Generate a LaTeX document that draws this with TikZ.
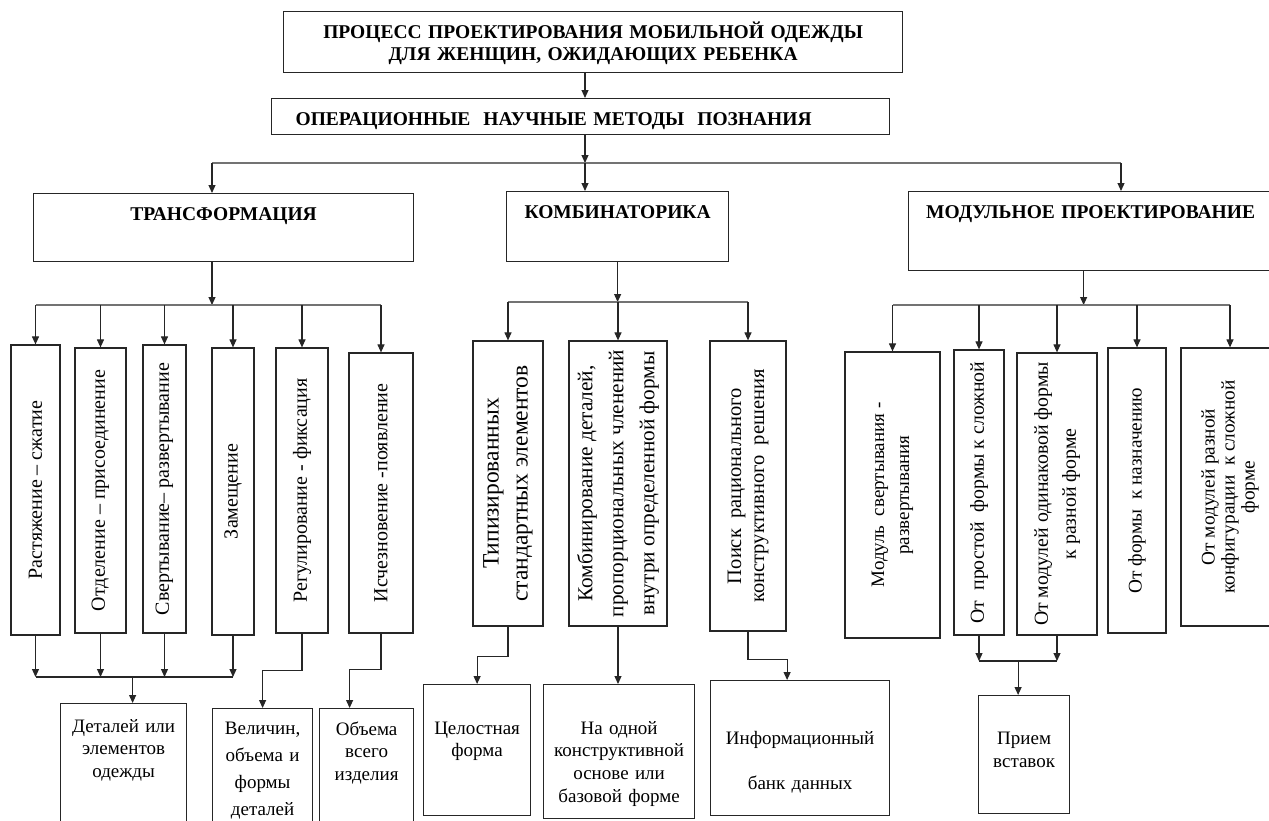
\documentclass[tikz,border=0pt]{standalone}
\usepackage{fontspec}
\setmainfont{Liberation Serif}
\usetikzlibrary{arrows.meta,positioning}

\begin{document}
\begin{tikzpicture}[x=1pt, y=-1pt,
    fs/.style 2 args={font=\fontsize{#1}{#2}\selectfont},
    box/.style={draw=black!85, line width=1.2pt, inner sep=0pt},
    topbox/.style={box, anchor=north west, align=center, font=\fontsize{19.5}{22}\selectfont\bfseries},
    vbox/.style={box, rotate=90, align=center, fs={20}{24}},
    lowbox/.style={box, anchor=north west, align=center, fs={19}{22.5}},
    arr/.style={draw=black!85, line width=1.1pt, -{Triangle[length=8pt,width=7pt]}},
    link/.style={draw=black!85, line width=1.1pt},
    bus/.style={draw=black!55, line width=1.8pt}]
  \useasboundingbox (0,0) rectangle (1269,820);
  \clip (0,0) rectangle (1269,820);

  \node[topbox, text width=619pt, text height=26.5pt, text depth=34.5pt] (title) at (283,11)
    {ПРОЦЕСС ПРОЕКТИРОВАНИЯ МОБИЛЬНОЙ ОДЕЖДЫ\\ ДЛЯ ЖЕНЩИН, ОЖИДАЮЩИХ РЕБЕНКА};
  \node[topbox, align=left, inner xsep=24pt, text width=570pt, text height=26.5pt, text depth=9.5pt] (methods) at (271,98)
    {ОПЕРАЦИОННЫЕ\ \ НАУЧНЫЕ МЕТОДЫ\ \ ПОЗНАНИЯ};

  \node[topbox, text width=380pt, text height=26.5pt, text depth=41.5pt] (trans) at (33,193) {ТРАНСФОРМАЦИЯ};
  \node[topbox, text width=222pt, text height=26.5pt, text depth=43.5pt] (comb) at (506,191) {КОМБИНАТОРИКА};
  \node[topbox, text width=364pt, text height=26.5pt, text depth=52.5pt] (mod) at (908,191) {МОДУЛЬНОЕ ПРОЕКТИРОВАНИЕ};

  \node[vbox, minimum width=290pt, minimum height=49pt] (t1) at (35.5,490) {Растяжение – сжатие};
  \node[vbox, minimum width=285pt, minimum height=51pt] (t2) at (100.5,490.5) {Отделение – присоединение};
  \node[vbox, minimum width=288pt, minimum height=43pt] (t3) at (164.5,489) {Свертывание– развертывание};
  \node[vbox, minimum width=287pt, minimum height=42pt] (t4) at (233,491.5) {Замещение};
  \node[vbox, minimum width=285pt, minimum height=52pt] (t5) at (302,490.5) {Регулирование - фиксация};
  \node[vbox, minimum width=280pt, minimum height=64pt] (t6) at (381,493) {Исчезновение -появление};

  \node[vbox, fs={23.5}{29}, minimum width=285pt, minimum height=70pt] (c1) at (508,483.5)
    {Типизированных\\ стандартных элементов};
  \node[vbox, fs={21.3}{31}, minimum width=285pt, minimum height=98pt] (c2) at (618,483.5)
    {Комбинирование деталей,\\ пропорциональных членений\\ внутри определенной формы};
  \node[vbox, fs={20.5}{23}, minimum width=290pt, minimum height=76pt] (c3) at (748,486)
    {Поиск\ \ рационального\\ конструктивного\ \ решения};

  \node[vbox, fs={19}{25}, minimum width=286pt, minimum height=95pt] (m1) at (892.5,495)
    {Модуль\ \ свертывания -\\ развертывания};
  \node[vbox, fs={19.8}{24}, minimum width=285pt, minimum height=50pt] (m2) at (979,492.5)
    {От\ \ простой\ \ формы к сложной};
  \node[vbox, fs={19.8}{28}, minimum width=282pt, minimum height=80pt] (m3) at (1057,494)
    {От модулей одинаковой формы\\ к разной форме};
  \node[vbox, fs={19.3}{24}, minimum width=285pt, minimum height=58pt] (m4) at (1137,490.5)
    {От формы\ \ к назначению};
  \node[vbox, fs={19.3}{20}, minimum width=278pt, minimum height=98pt] (m5) at (1230,487)
    {От модулей разной\\ конфигурации\ \ к сложной\\ форме};

  \node[lowbox, text width=126pt, text height=28.5pt, text depth=110pt] (det) at (60,703)
    {Деталей или\\ элементов\\ одежды};
  \node[lowbox, fs={19}{27}, text width=100pt, text height=25.5pt, text depth=110pt] (vel) at (212,708)
    {Величин,\\ объема и\\ формы\\ деталей};
  \node[lowbox, text width=94pt, text height=26.5pt, text depth=110pt] (obj) at (319,708)
    {Объема\\ всего\\ изделия};
  \node[lowbox, fs={19}{22}, text width=107pt, text height=49.5pt, text depth=81.5pt] (cel) at (423,684)
    {Целостная\\ форма};
  \node[lowbox, fs={19}{22.7}, text width=151pt, text height=49.5pt, text depth=84.5pt] (na) at (543,684)
    {На одной\\ конструктивной\\ основе или\\ базовой форме};
  \node[lowbox, text width=179pt, text height=63.5pt, text depth=71.5pt] (inf) at (710,680)
    {Информационный\\[22.5pt] банк данных};
  \node[lowbox, fs={19}{23}, text width=91pt, text height=48.5pt, text depth=69.5pt] (priem) at (978,695)
    {Прием\\ вставок};

  \coordinate (spine) at (585,0);
  \coordinate (trcol) at (212,0);
  \coordinate (modcol) at (1121,0);
  \coordinate (topbus) at (0,163);
  \coordinate (trbus) at (0,305);
  \coordinate (cbus) at (0,302);
  \coordinate (mbus) at (0,305);
  \coordinate (tjoin) at (0,677);
  \coordinate (mjoin) at (0,661);
  \coordinate (modout) at ([xshift=-7pt]mod.south);
  \coordinate (detin) at ([xshift=9pt]det.north);
  \coordinate (objin) at ([xshift=-17pt]obj.north);
  \coordinate (infin) at ([xshift=-13pt]inf.north);
  \coordinate (priemin) at ([xshift=-6pt]priem.north);

  \draw[arr] (title.south -| spine) -- (methods.north -| spine);
  \draw[arr] (methods.south -| spine) -- (topbus -| spine);
  \draw[bus] (topbus -| trcol) -- (topbus -| modcol);
  \draw[arr] (topbus -| trcol) -- (trans.north -| trcol);
  \draw[arr] (topbus -| spine) -- (comb.north -| spine);
  \draw[arr] (topbus -| modcol) -- (mod.north -| modcol);

  \draw[arr] (trans.south -| trcol) -- (trbus -| trcol);
  \draw[bus] (trbus -| t1.east) -- (trbus -| t6.east);
  \foreach \n in {t1,t2,t3,t4,t5,t6}
    \draw[arr] (trbus -| \n.east) -- (\n.east);

  \draw[arr] (comb.south) -- (comb.south |- cbus);
  \draw[bus] (cbus -| c1.east) -- (cbus -| c3.east);
  \foreach \n in {c1,c2,c3}
    \draw[arr] (cbus -| \n.east) -- (\n.east);

  \draw[arr] (modout) -- (modout |- mbus);
  \draw[bus] (mbus -| m1.east) -- (mbus -| m5.east);
  \foreach \n in {m1,m2,m3,m4,m5}
    \draw[arr] (mbus -| \n.east) -- (\n.east);

  \foreach \n in {t1,t2,t3,t4}
    \draw[arr] (\n.west) -- (tjoin -| \n.west);
  \draw[link] (tjoin -| t1.west) -- (tjoin -| t4.west);
  \draw[arr] (tjoin -| detin) -- (detin);
  \draw[arr] (t5.west) -- ++(0,37) -| (vel.north);
  \draw[arr] (t6.west) -- ++(0,36) -| (objin);

  \draw[arr] (c1.west) -- ++(0,30) -| (cel.north);
  \draw[arr] (c2.west) -- (c2.west |- na.north);
  \draw[arr] (c3.west) -- ++(0,28) -| (infin);

  \draw[arr] (m2.west) -- (mjoin -| m2.west);
  \draw[arr] (m3.west) -- (mjoin -| m3.west);
  \draw[link] (mjoin -| m2.west) -- (mjoin -| m3.west);
  \draw[arr] (mjoin -| priemin) -- (priemin);
\end{tikzpicture}
\end{document}
